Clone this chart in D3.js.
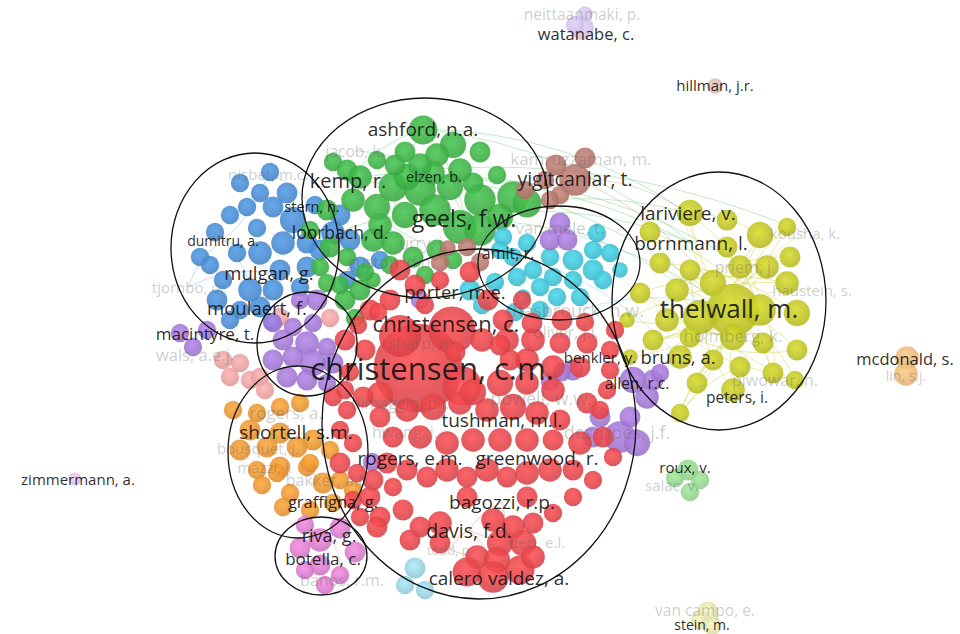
<!DOCTYPE html>
<html>
<head>
<meta charset="utf-8">
<script src="https://cdn.jsdelivr.net/npm/d3@7"></script>
<style>
  html, body { margin: 0; padding: 0; background: #fff; }
  #map text { font-family: "Open Sans", "Noto Sans", sans-serif; }
</style>
</head>
<body>
<div id="map"></div>
<script>
// Map coordinates [x, y, weight] per cluster
const redNodes = [
  [418,368,650],[452,330,184],[400,336,145],[462,386,128],[380,395,57],
  [333,397,28],[347,410,28],[363,397,36],[340,430,28],[353,443,28],[340,463,36],[357,473,28],[373,480,36],
  [387,463,36],[393,487,28],[407,470,36],[427,477,36],[447,470,46],[467,477,36],[487,470,46],[507,477,36],
  [527,473,46],[550,470,46],[573,470,36],[593,480,28],[613,457,28],[603,437,36],[580,443,46],[553,440,36],
  [527,440,46],[500,440,46],[473,440,46],[447,443,46],[420,437,46],[393,437,36],[380,417,36],[407,410,46],
  [433,407,57],[460,403,46],[487,410,46],[513,407,57],[537,413,46],[560,420,36],[587,403,36],[607,390,28],
  [553,390,46],[527,383,46],[500,383,57],[473,392,57],[580,367,36],[553,367,46],[527,360,46],[587,343,36],
  [560,343,36],[533,340,46],[507,340,46],[610,350,28],[610,370,28],
  [353,500,28],[380,517,36],[403,510,36],[420,527,36],[410,540,36],[440,523,46],[493,520,46],[513,527,46],
  [533,523,36],[553,513,28],[573,497,28],[467,497,36],[527,497,36],[500,543,57],[523,543,57],[477,557,46],
  [497,560,57],[467,572,69],[493,577,82],[520,570,69],[533,557,46],[440,543,36],[377,527,36],[370,497,36],[360,517,28],
  [400,270,36],[415,285,36],[390,300,36],[370,310,36],[358,325,28],[345,340,36],[470,272,36],[488,300,36],
  [503,320,36],[522,300,28],[532,323,36],[482,340,46],[455,352,36],[510,360,36],[365,350,36],[350,372,28],
  [345,390,28],[378,312,28],[425,305,28],[500,345,36],[440,280,28],[562,320,36],[585,322,28],[615,330,28],[600,410,28]
];
const greenNodes = [
  [423,130,69],[453,145,57],[480,152,36],[405,152,36],[377,160,28],[437,155,46],[333,162,28],[347,170,36],
  [360,177,46],[393,187,69],[420,190,82],[450,187,57],[473,183,36],[497,175,28],[513,197,82],[527,203,69],
  [480,200,82],[460,227,96],[480,230,82],[500,217,57],[377,207,57],[353,200,46],[327,210,36],[330,247,36],
  [347,257,28],[373,240,46],[393,243,46],[413,257,36],[437,250,36],[453,260,28],[320,267,28],[327,283,28],
  [373,280,20],[407,177,57],[433,173,46],[345,300,36],[360,290,36],[355,318,28],[340,285,28],[365,272,28],
  [435,210,82],[405,215,57],[380,225,46],[425,275,28],[390,265,28],[460,170,46],[420,165,46],[395,165,36],[310,230,28]
];
const blueNodes = [
  [270,172,28],[240,183,28],[260,193,28],[287,193,36],[247,207,28],[273,207,36],[293,220,57],[257,228,28],
  [283,243,46],[307,243,36],[200,257,28],[237,253,28],[260,253,46],[307,267,36],[280,270,36],[223,280,28],
  [250,290,46],[273,290,36],[300,287,28],[347,280,28],[360,267,36],[333,233,46],[350,240,36],[217,300,36],
  [240,310,28],[260,307,36],[380,260,28],[230,320,28],[272,322,28],[210,265,28],[320,250,36],[340,215,36],
  [215,232,28],[230,215,28],[315,205,28]
];
const cyanNodes = [
  [503,237,28],[527,243,28],[550,257,28],[573,260,36],[593,250,28],[597,233,28],[610,253,28],[593,270,36],
  [573,280,28],[553,277,28],[533,270,28],[517,277,28],[603,280,28],[580,297,28],[557,297,28],[540,287,28],
  [523,297,20],[500,250,28],[513,257,28],[470,290,36],[495,282,28],[482,305,28],[515,312,28],[620,270,20],[540,310,28]
];
const purpleNodes = [
  [273,323,28],[293,327,28],[313,323,28],[317,300,36],[300,300,28],[283,340,36],[307,343,46],[327,347,28],
  [273,360,36],[293,357,36],[313,363,57],[333,363,36],[287,377,36],[307,380,36],[327,383,28],
  [180,333,28],[193,347,28],[207,330,28],
  [560,223,36],[550,240,36],[567,240,36],
  [633,380,57],[653,380,36],[647,397,46],[660,373,28],[600,417,36],[620,437,82],[637,443,57],[593,437,36],
  [630,417,36],[573,370,36],[562,372,28],[550,382,28],[420,300,28],[372,462,28]
];
const yellowNodes = [
  [690,213,57],[727,220,36],[760,235,57],[650,232,36],[660,263,36],[690,270,36],[727,247,36],[740,267,46],
  [767,267,46],[790,257,36],[787,283,46],[677,290,46],[640,293,36],[713,283,57],[733,310,227],[700,317,96],
  [760,310,82],[797,313,57],[667,320,46],[653,340,36],[690,337,36],[733,337,57],[763,343,36],[797,350,36],
  [680,357,46],[713,360,36],[740,367,36],[773,373,36],[697,383,36],[733,390,46],[680,413,28],[630,357,20],
  [627,320,20],[787,227,28],[795,380,28]
];
const orangeNodes = [
  [233,410,28],[257,413,28],[280,407,28],[300,403,28],[250,430,36],[280,433,36],[313,440,36],[240,450,36],
  [267,447,36],[297,447,36],[280,467,36],[307,467,28],[257,470,28],[330,450,28],[310,463,28],[277,473,28],
  [290,493,28],[310,510,28],[323,483,36],[340,480,28],[353,490,28],[283,507,28],[333,503,28],[262,485,28]
];
const brownNodes = [
  [575,180,82],[545,180,28],[556,165,36],[585,158,36],[525,190,28],[560,195,28],[550,200,28],
  [467,247,28],[480,262,28],[440,262,28],[448,248,20]
];
const pinkNodes = [
  [320,540,46],[305,525,28],[340,528,36],[300,548,36],[355,552,36],[320,565,36],[340,575,28],[305,570,28],[325,585,28]
];
const salmonNodes = [
  [240,363,28],[230,377,28],[250,380,28],[223,360,28],[260,377,28],[280,317,28],[330,318,28],[265,390,28]
];
const skyNodes = [[415,568,36],[405,585,28],[425,590,28]];
const mintNodes = [[688,470,36],[700,480,28],[690,492,28],[675,478,28]];
const mcdonaldNodes = [[907,358,46],[906,374,46]];
const watanabeNodes = [[582,28,46],[585,14,20],[575,25,28]];
const hillmanNodes = [[715,86,20]];
const zimmermannNodes = [[75,479,14]];
const steinNodes = [[708,612,36],[700,620,28],[712,626,28]];

// [label, cluster, x, y, weight, shown]
const labels = [
  ["christensen, c.m.","red",432,368,1000,1],
  ["christensen, c.","red",446,323,504,1],
  ["geels, f.w.","green",464,218,550,1],
  ["thelwall, m.","yellow",729,308,703,1],
  ["kemp, r.","green",348,180,416,1],
  ["ashford, n.a.","green",423,129,376,1],
  ["loorbach, d.","green",340,232,319,1],
  ["mulgan, g.","blue",269,272,356,1],
  ["moulaert, f.","blue",257,307,356,1],
  ["porter, m.e.","red",455,291,356,1],
  ["yigitcanlar, t.","brown",575,178,396,1],
  ["lariviere, v.","yellow",688,213,376,1],
  ["bornmann, l.","yellow",691,243,376,1],
  ["bruns, a.","yellow",678,356,356,1],
  ["peters, i.","yellow",737,397,250,1],
  ["allen, r.c.","purple",637,383,250,1],
  ["tushman, m.l.","red",502,420,376,1],
  ["rogers, e.m.","red",410,458,376,1],
  ["greenwood, r.","red",537,458,376,1],
  ["bagozzi, r.p.","red",502,502,376,1],
  ["davis, f.d.","red",469,530,396,1],
  ["calero valdez, a.","red",499,578,376,1],
  ["shortell, s.m.","orange",296,432,376,1],
  ["graffigna, g.","orange",333,501,283,1],
  ["riva, g.","pink",329,535,337,1],
  ["botella, c.","pink",323,558,301,1],
  ["macintyre, t.","purple",205,333,301,1],
  ["watanabe, c.","watanabe",586,33,283,1],
  ["hillman, j.r.","hillman",715,85,234,1],
  ["mcdonald, s.","mcdonald",905,358,283,1],
  ["roux, v.","mint",685,467,234,1],
  ["stein, m.","stein",702,624,204,1],
  ["zimmermann, a.","zimmermann",78,479,234,1],
  ["stern, n.","green",312,206,219,1],
  ["elzen, b.","green",434,176,219,1],
  ["dumitru, a.","blue",223,240,204,1],
  ["amit, r.","cyan",508,253,266,1],
  ["benkler, y.","red",600,357,234,1],
  ["powell, w.w.","red",541,398,337,0],
  ["dimaggio, p.j.","red",400,403,266,0],
  ["hwang, j.","red",405,432,266,0],
  ["todd, p.","red",450,550,176,0],
  ["deci, e.l.","red",537,542,234,0],
  ["des-ripes, j.f.","purple",617,432,337,0],
  ["hasbrouck, h.w.","cyan",578,310,337,0],
  ["oliver, j.l.","red",566,332,266,0],
  ["sharp, m.","red",423,343,266,0],
  ["jacob, k.","green",355,151,250,0],
  ["nisbet, m.c.","blue",268,174,234,0],
  ["urry, j.","green",423,243,266,0],
  ["guston, d.h.","green",391,262,266,0],
  ["tjornbo, o.","blue",188,287,234,0],
  ["wals, a.e.j.","purple",195,354,283,0],
  ["van mele, t.","cyan",560,227,283,0],
  ["kamruzzaman, m.","brown",581,158,301,0],
  ["priem, j.","yellow",745,267,266,0],
  ["holmberg, k.","yellow",733,335,301,0],
  ["piwowar, h.","yellow",775,380,266,0],
  ["kousha, k.","yellow",805,233,234,0],
  ["haustein, s.","yellow",812,290,234,0],
  ["rogers, a.","orange",286,412,301,0],
  ["bousquet, j.","orange",258,448,234,0],
  ["mazzi, j.","orange",265,467,234,0],
  ["bakker, a.b.","orange",329,480,266,0],
  ["banos, r.m.","pink",342,580,266,0],
  ["neittaanmaki, p.","watanabe",582,14,250,0],
  ["salac, v.","mint",672,485,234,0],
  ["van campo, e.","stein",705,610,250,0],
  ["lin, s.j.","mcdonald",906,375,204,0]
];

// co-citation links between labelled items
const labelLinks = [
  ["geels, f.w.","thelwall, m."],["geels, f.w.","lariviere, v."],["ashford, n.a.","bornmann, l."],
  ["elzen, b.","priem, j."],["kemp, r.","kousha, k."],["yigitcanlar, t.","thelwall, m."],
  ["ashford, n.a.","lariviere, v."],["geels, f.w.","bornmann, l."],["yigitcanlar, t.","lariviere, v."],
  ["elzen, b.","thelwall, m."],["kemp, r.","bornmann, l."],
  ["amit, r.","bruns, a."],["van mele, t.","holmberg, k."],["hasbrouck, h.w.","thelwall, m."],
  ["thelwall, m.","bornmann, l."],["thelwall, m.","lariviere, v."],["thelwall, m.","priem, j."],
  ["thelwall, m.","holmberg, k."],["thelwall, m.","bruns, a."],["thelwall, m.","peters, i."],
  ["thelwall, m.","piwowar, h."],["thelwall, m.","kousha, k."],["thelwall, m.","haustein, s."],
  ["bornmann, l.","lariviere, v."],["priem, j.","piwowar, h."],["peters, i.","holmberg, k."],
  ["dumitru, a.","mulgan, g."],["mulgan, g.","moulaert, f."],["tjornbo, o.","mulgan, g."],
  ["nisbet, m.c.","stern, n."],["stern, n.","loorbach, d."],["dumitru, a.","moulaert, f."],
  ["tjornbo, o.","dumitru, a."],["nisbet, m.c.","dumitru, a."],
  ["davis, f.d.","bagozzi, r.p."],["davis, f.d.","calero valdez, a."],["todd, p.","davis, f.d."],
  ["deci, e.l.","calero valdez, a."],["deci, e.l.","davis, f.d."],["todd, p.","calero valdez, a."],
  ["bagozzi, r.p.","calero valdez, a."],
  ["riva, g.","botella, c."],["banos, r.m.","botella, c."],["riva, g.","banos, r.m."],
  ["kemp, r.","geels, f.w."],["ashford, n.a.","geels, f.w."],["jacob, k.","elzen, b."],
  ["loorbach, d.","geels, f.w."],["kemp, r.","ashford, n.a."],["elzen, b.","geels, f.w."],
  ["urry, j.","kemp, r."],["guston, d.h.","ashford, n.a."]
];
// links inside the yellow cluster, by node index
const yellowLinks = [
  [14,0],[14,2],[14,3],[14,4],[14,9],[14,12],[14,19],[14,23],[14,27],[14,28],[14,30],[14,31],[14,32],
  [14,33],[14,34],[0,2],[0,16],[2,15],[3,16],[4,17],[12,10],[19,21],[30,21],[30,16],[30,26],[28,16],
  [31,17],[32,10],[24,8],[11,9],[33,15],[34,11],[29,5],[27,18],[23,20],[22,12]
];

// hand drawn ellipses: [cx, cy, rx, ry]
const rings = [
  [255,248,84,95],[425,198,123,100],[559,263,81,57],[719,301,107,129],
  [307,344,50,52],[298,452,70,86],[321,556,46,39],[479,424,157,175]
];

const groups = [
  ["salmon", salmonNodes], ["blue", blueNodes], ["green", greenNodes], ["brown", brownNodes],
  ["cyan", cyanNodes], ["yellow", yellowNodes], ["orange", orangeNodes], ["purple", purpleNodes],
  ["red", redNodes], ["pink", pinkNodes], ["sky", skyNodes], ["mint", mintNodes],
  ["mcdonald", mcdonaldNodes], ["watanabe", watanabeNodes], ["hillman", hillmanNodes],
  ["zimmermann", zimmermannNodes], ["stein", steinNodes]
];

const colour = d3.scaleOrdinal()
  .domain(["red","green","blue","yellow","purple","cyan","orange","brown","pink","salmon","sky","mint",
           "mcdonald","watanabe","hillman","zimmermann","stein"])
  .range(["#e9474c","#3fb548","#4a8fd6","#c6ca26","#a67ad9","#3fc7db","#f29a33","#b97a71","#e07fd0",
          "#f4a5a5","#9bd8e7","#7fd277","#f1ad5e","#c7b3e8","#d8b1aa","#eab4d9","#dde195"]);
const faded = {mcdonald: 0.8, watanabe: 0.7, hillman: 0.8, zimmermann: 0.8, stein: 0.7, mint: 0.8};

const width = 960, height = 634;
const x = d3.scaleLinear().domain([0, 960]).range([0, width]);
const y = d3.scaleLinear().domain([0, 634]).range([0, height]);
const radius = d3.scaleSqrt().domain([0, 1000]).range([0, 55]);
const fontSize = d3.scaleSqrt().domain([0, 1000]).range([0, 31]);

const svg = d3.select("#map").append("svg")
  .attr("width", width)
  .attr("height", height)
  .attr("viewBox", `0 0 ${width} ${height}`);

svg.append("rect").attr("width", width).attr("height", height).attr("fill", "#fff");

// Bubble shading
const defs = svg.append("defs");
colour.domain().forEach(k => {
  const g = defs.append("radialGradient")
    .attr("id", `bubble-${k}`)
    .attr("cx", "45%").attr("cy", "40%").attr("r", "60%");
  g.append("stop").attr("offset", "0%").attr("stop-color", d3.color(colour(k)).brighter(0.25));
  g.append("stop").attr("offset", "100%").attr("stop-color", d3.color(colour(k)).darker(0.25));
});

const byName = new Map(labels.map(d => [d[0], d]));

// Links
const curve = (x1, y1, x2, y2) => {
  const mx = (x1 + x2) / 2, my = (y1 + y2) / 2;
  const dx = x2 - x1, dy = y2 - y1;
  return `M${x1},${y1}Q${mx + dy * 0.15},${my - dx * 0.15} ${x2},${y2}`;
};

const linkLayer = svg.append("g").attr("fill", "none").attr("stroke-width", 0.9);

linkLayer.selectAll("path.ylink")
  .data(yellowLinks)
  .join("path")
  .attr("class", "ylink")
  .attr("d", d => {
    const a = yellowNodes[d[0]], b = yellowNodes[d[1]];
    return curve(x(a[0]), y(a[1]), x(b[0]), y(b[1]));
  })
  .attr("stroke", colour("yellow"))
  .attr("stroke-opacity", 0.45);

linkLayer.selectAll("path.llink")
  .data(labelLinks)
  .join("path")
  .attr("class", "llink")
  .attr("d", d => {
    const a = byName.get(d[0]), b = byName.get(d[1]);
    return curve(x(a[2]), y(a[3]), x(b[2]), y(b[3]));
  })
  .attr("stroke", d => colour(byName.get(d[0])[1]))
  .attr("stroke-opacity", 0.35);

// Bubbles
const bubbleLayer = svg.append("g");
groups.forEach(([key, nodes]) => {
  bubbleLayer.append("g")
    .attr("opacity", faded[key] || 1)
    .selectAll("circle")
    .data(nodes)
    .join("circle")
    .attr("cx", d => x(d[0]))
    .attr("cy", d => y(d[1]))
    .attr("r", d => radius(d[2]))
    .attr("fill", `url(#bubble-${key})`)
    .attr("fill-opacity", 0.88);
});

// Labels
svg.append("g")
  .selectAll("text")
  .data(labels)
  .join("text")
  .attr("x", d => x(d[2]))
  .attr("y", d => y(d[3]))
  .attr("text-anchor", "middle")
  .attr("dominant-baseline", "central")
  .style("font-size", d => `${fontSize(d[4]).toFixed(1)}px`)
  .attr("fill", d => d[5] ? "#111" : "#606060")
  .attr("fill-opacity", d => d[5] ? 0.9 : 0.32)
  .text(d => d[0]);

// Hand drawn cluster outlines
svg.append("g")
  .selectAll("ellipse")
  .data(rings)
  .join("ellipse")
  .attr("cx", d => x(d[0]))
  .attr("cy", d => y(d[1]))
  .attr("rx", d => x(d[2]) - x(0))
  .attr("ry", d => y(d[3]) - y(0))
  .attr("fill", "none")
  .attr("stroke", "#111")
  .attr("stroke-width", 1.3);
</script>
</body>
</html>
